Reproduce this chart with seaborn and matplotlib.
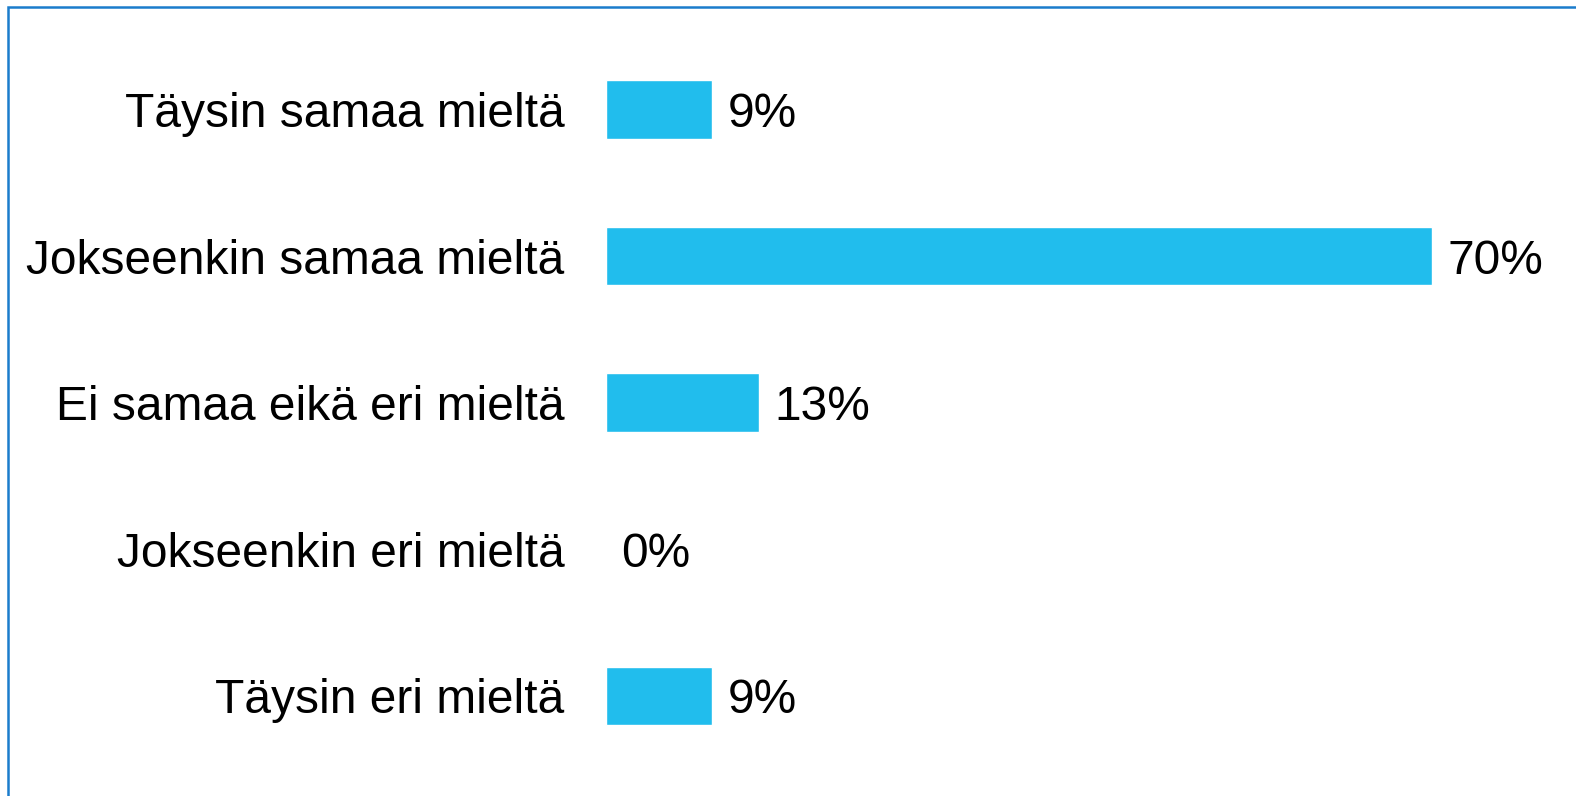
import matplotlib
matplotlib.use("Agg")
import matplotlib.pyplot as plt
import seaborn as sns
import pandas as pd
from matplotlib.patches import Rectangle

# data
categories = ['Täysin samaa mieltä', 'Jokseenkin samaa mieltä', 'Ei samaa eikä eri mieltä',
              'Jokseenkin eri mieltä', 'Täysin eri mieltä']
values = [9, 70, 13, 0, 9]
value_labels = ['9%', '70%', '13%', '0%', '9%']

df = pd.DataFrame({'vastaus': categories, 'osuus': values})

sns.set_theme(style="white")
plt.rcParams['font.family'] = ['Liberation Sans', 'DejaVu Sans']

W, H = 1576, 796
fig = plt.figure(figsize=(W / 100, H / 100), dpi=100)
fig.patch.set_facecolor('white')

# axes placed in pixel terms
left, right = 606, 1576
top, bottom = 36.2, 769.3
ax = fig.add_axes([left / W, 1 - bottom / H, (right - left) / W, (bottom - top) / H])

sns.barplot(x='osuus', y='vastaus', data=df, color='#21BDED', width=0.40,
            saturation=1, orient='h', ax=ax)
ax.set_xlim(0, (right - left) / 11.8)
ax.set_ylim(4.5, -0.5)

texts = ax.bar_label(ax.containers[0], labels=value_labels, padding=11, fontsize=34.5,
                     color='black')
for t in texts:
    t.set_va('center_baseline')

ax.set(xlabel='', ylabel='')
ax.set_xticks([])
ax.tick_params(axis='y', length=0, pad=30, labelsize=34.5, labelcolor='black')
for s in ax.spines.values():
    s.set_visible(False)
ax.patch.set_alpha(0)

# blue frame round the chart
fig.patches.append(Rectangle((8 / W, -0.1), 1.2, 1 - 7 / H + 0.1, transform=fig.transFigure,
                             fill=False, edgecolor='#1a7ccc', linewidth=1.8))

fig.savefig('out.png', dpi=100)
